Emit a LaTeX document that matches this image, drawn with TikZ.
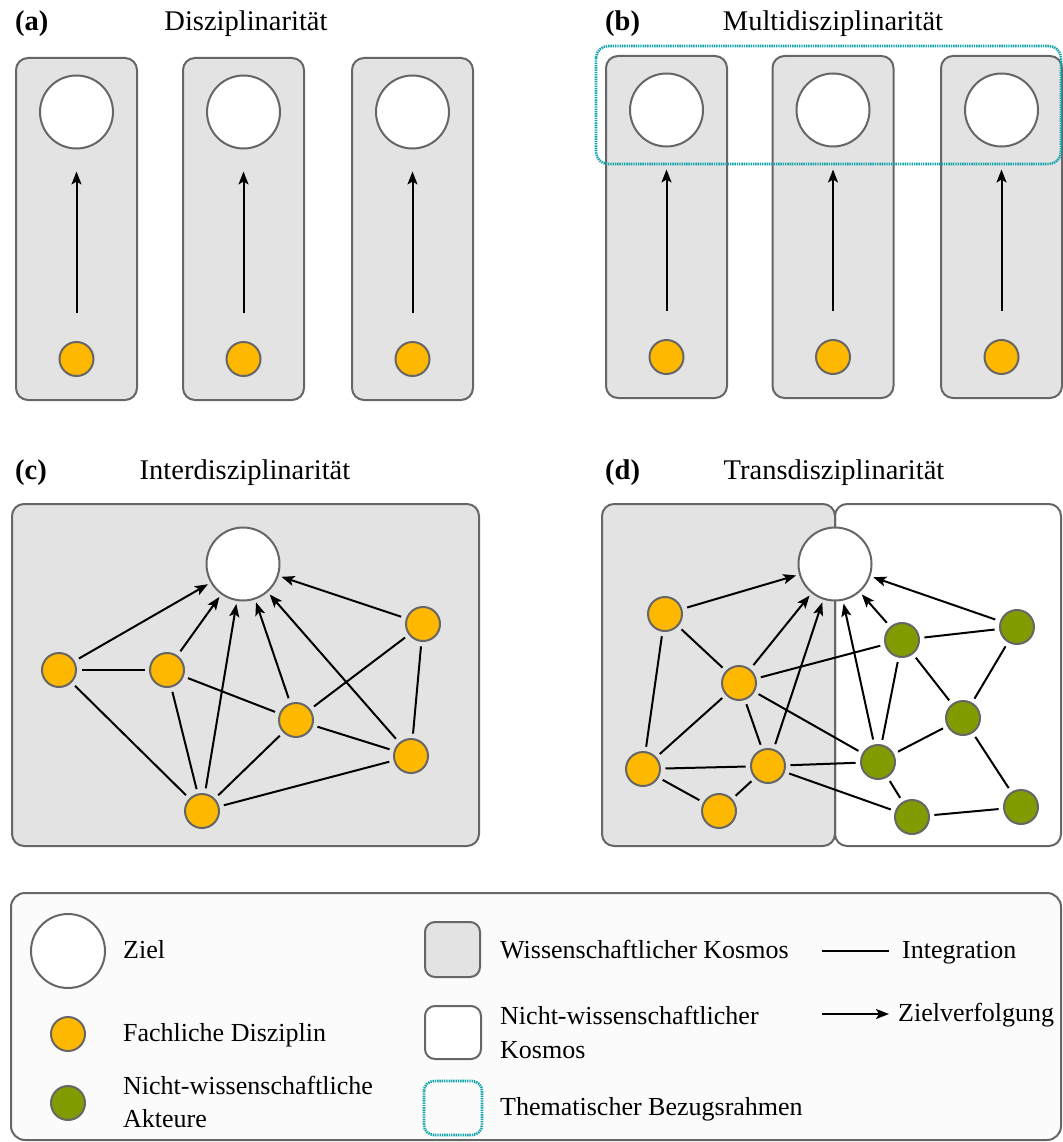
\documentclass[tikz,border=0pt]{standalone}
\usepackage{fontspec}
\setmainfont{LiberationSerif}[Extension=.ttf, UprightFont=*-Regular, BoldFont=*-Bold, ItalicFont=*-Italic, BoldItalicFont=*-BoldItalic]
\usetikzlibrary{arrows.meta}

\definecolor{boxgrey}{HTML}{E3E3E3}
\definecolor{edgegrey}{HTML}{666666}
\definecolor{discorange}{HTML}{FFB800}
\definecolor{actorgreen}{HTML}{809C00}
\definecolor{frameteal}{HTML}{12A4AC}
\definecolor{legendbg}{HTML}{FBFBFB}

\begin{document}
\begin{tikzpicture}[x=1pt,y=-1pt,
  kosmos/.style={draw=edgegrey, fill=boxgrey, line width=2pt, rounded corners=12pt},
  nonkosmos/.style={draw=edgegrey, fill=white, line width=2pt, rounded corners=12pt},
  frame/.style={draw=frameteal, line width=2.6pt, dash pattern=on 1.4pt off 0.9pt, rounded corners=12pt},
  ziel/.style={circle, draw=edgegrey, fill=white, line width=2pt, inner sep=0pt, minimum size=73pt},
  disc/.style={circle, draw=edgegrey, fill=discorange, line width=2pt, inner sep=0pt, minimum size=34pt},
  actor/.style={circle, draw=edgegrey, fill=actorgreen, line width=2pt, inner sep=0pt, minimum size=34pt},
  integ/.style={draw=black, line width=2pt, shorten <=4.5pt, shorten >=4.5pt},
  goal/.style={draw=black, line width=2pt, -{Stealth[length=13pt,width=10pt,inset=3pt]}, shorten <=5pt, shorten >=3pt},
  vgoal/.style={draw=black, line width=2pt, -{Stealth[length=13pt,width=10pt,inset=3pt]}},
  paneltitle/.style={font=\fontsize{28.5}{34}\selectfont, anchor=base, inner sep=0pt},
  panellabel/.style={font=\bfseries\fontsize{28.5}{34}\selectfont, anchor=base west, inner sep=0pt},
  legtext/.style={font=\fontsize{26}{33.5}\selectfont, inner sep=0pt, align=left}
]
\useasboundingbox (0,0) rectangle (1062,1142);

% ---------- (a) Disziplinarität ----------
\node[panellabel] (la) at (15,31) {(a)};
\node[paneltitle] (ta) at (246,31) {Disziplinarität};
\foreach \i/\x in {1/76.5, 2/243.5, 3/412.5} {
  \draw[kosmos] (\x-60.5,58) rectangle (\x+60.5,400);
  \node[ziel] (az\i) at (\x,112) {};
  \node[disc] (ad\i) at (\x,359) {};
  \draw[vgoal, shorten <=28pt, shorten >=22pt] (ad\i) -- (az\i);
}

% ---------- (b) Multidisziplinarität ----------
\node[panellabel] (lb) at (605,31) {(b)};
\node[paneltitle] (tb) at (833,31) {Multidisziplinarität};
\foreach \i/\x in {1/666.5, 2/833, 3/1001.5} {
  \draw[kosmos] (\x-60.5,56) rectangle (\x+60.5,398);
}
\draw[frame] (596,46) rectangle (1061,164);
\foreach \i/\x in {1/666.5, 2/833, 3/1001.5} {
  \node[ziel] (bz\i) at (\x,110) {};
  \node[disc] (bd\i) at (\x,357) {};
  \draw[vgoal, shorten <=28pt, shorten >=22pt] (bd\i) -- (bz\i);
}

% ---------- (c) Interdisziplinarität ----------
\node[panellabel] (lc) at (15,479) {(c)};
\node[paneltitle] (tc) at (245,479) {Interdisziplinarität};
\draw[kosmos] (12,504) rectangle (479,846);
\node[ziel] (cz) at (243,564) {};
\node[disc] (c1) at (59,670) {};
\node[disc] (c2) at (167,670) {};
\node[disc] (c3) at (423,624) {};
\node[disc] (c4) at (296,720) {};
\node[disc] (c5) at (411,756) {};
\node[disc] (c6) at (202,811) {};
\foreach \a/\b in {c1/c2, c1/c6, c2/c6, c2/c4, c4/c3, c4/c5, c4/c6, c6/c5, c3/c5}
  \draw[integ] (\a) -- (\b);
\foreach \a in {c1, c2, c6, c4, c5, c3}
  \draw[goal] (\a) -- (cz);

% ---------- (d) Transdisziplinarität ----------
\node[panellabel] (ld) at (605,479) {(d)};
\node[paneltitle] (td) at (834,479) {Transdisziplinarität};
\draw[nonkosmos] (835,504) rectangle (1061,846);
\draw[kosmos] (602,504) rectangle (835,846);
\node[ziel] (dz) at (835,564) {};
\node[disc] (o1) at (665,614) {};
\node[disc] (o2) at (739,683) {};
\node[disc] (o3) at (643,769) {};
\node[disc] (o4) at (768,766) {};
\node[disc] (o5) at (719,811) {};
\node[actor] (g1) at (902,640) {};
\node[actor] (g2) at (1017,627) {};
\node[actor] (g3) at (963,718) {};
\node[actor] (g4) at (878,762) {};
\node[actor] (g5) at (912,817) {};
\node[actor] (g6) at (1021,807) {};
\foreach \a/\b in {o1/o2, o1/o3, o2/o3, o2/o4, o2/g1, o2/g4, o3/o4, o3/o5, o5/o4,
                   o4/g4, o4/g5, g1/g2, g1/g4, g1/g3, g2/g3, g3/g4, g3/g6, g4/g5, g5/g6}
  \draw[integ] (\a) -- (\b);
\foreach \a in {o1, o2, o4, g4, g1, g2}
  \draw[goal] (\a) -- (dz);

% ---------- legend ----------
\draw[draw=edgegrey, fill=legendbg, line width=2pt, rounded corners=14pt] (11,893) rectangle (1061,1140);

\node[ziel, minimum size=74pt] (kz) at (68,951) {};
\node[legtext, anchor=base west] (kzt) at (123,958) {Ziel};
\node[disc] (kd) at (68,1034) {};
\node[legtext, anchor=base west] (kdt) at (123,1041) {Fachliche Disziplin};
\node[actor] (ka) at (68,1103) {};
\node[legtext, anchor=west] (kat) at (123,1102) {Nicht-wissenschaftliche\\Akteure};

\draw[kosmos, rounded corners=10pt] (425,922) rectangle (480,977);
\node[legtext, anchor=base west] (kwt) at (500,958) {Wissenschaftlicher Kosmos};
\draw[nonkosmos, rounded corners=10pt] (425,1006) rectangle (481,1059);
\node[legtext, anchor=west] (knt) at (500,1032.5) {Nicht-wissenschaftlicher\\Kosmos};
\draw[frame, rounded corners=10pt] (424,1081) rectangle (482,1135);
\node[legtext, anchor=base west] (kft) at (500,1115) {Thematischer Bezugsrahmen};

\coordinate (li1) at (822,951);
\coordinate (li2) at (889,951);
\draw[line width=2pt] (li1) -- (li2);
\node[legtext, anchor=base west] (kit) at (902,958) {Integration};
\coordinate (lg1) at (822,1014);
\coordinate (lg2) at (889,1014);
\draw[vgoal] (lg1) -- (lg2);
\node[legtext, anchor=base west] (kgt) at (898,1021) {Zielverfolgung};
\end{tikzpicture}
\end{document}
